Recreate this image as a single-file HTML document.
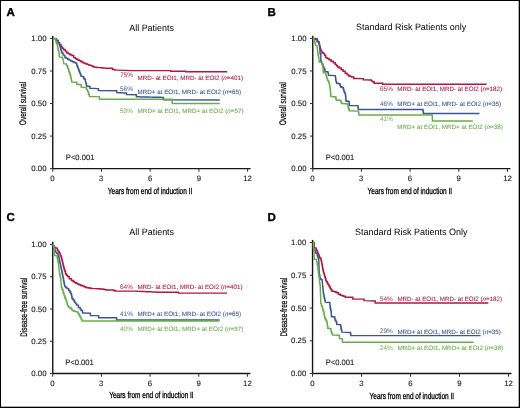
<!DOCTYPE html>
<html><head><meta charset="utf-8"><style>
html,body{margin:0;padding:0;background:#fff;}
svg{display:block;will-change:transform;}
text{font-family:"Liberation Sans",sans-serif;text-rendering:geometricPrecision;}
.L{font-size:11.5px;font-weight:bold;fill:#000;stroke:#000;stroke-width:0.35px;}
.T{font-size:9.2px;fill:#000;}
.tk{font-size:7.8px;fill:#1e1e1e;stroke:#1e1e1e;stroke-width:0.12px;}
.Y{font-size:9.5px;fill:#000;stroke:#000;stroke-width:0.22px;}
.X{font-size:8.9px;fill:#000;stroke:#000;stroke-width:0.3px;}
.P{font-size:6.6px;stroke-width:0.05px;fill-opacity:0.9;}
.G{font-size:6.3px;stroke-width:0.08px;}
.ax line{stroke:#161616;stroke-width:1.4;}
.ax line.t{stroke:#333;stroke-width:1.05;}
polyline{fill:none;stroke-width:1.45;stroke-linejoin:miter;}
</style></head><body>
<svg width="520" height="408" viewBox="0 0 520 408">
<rect x="0" y="0" width="520" height="408" fill="#fff"/>
<text class="L" x="6.6" y="16.3">A</text>
<text class="T" x="129.2" y="30.5" textLength="44.8" lengthAdjust="spacingAndGlyphs">All Patients</text>
<g class="ax"><line x1="52.75" y1="35.8" x2="52.75" y2="168.65" /><line x1="52.75" y1="168.65" x2="250.6" y2="168.65" /><line class="t" x1="49.95" y1="38.40" x2="52.75" y2="38.40" /><line class="t" x1="49.95" y1="70.96" x2="52.75" y2="70.96" /><line class="t" x1="49.95" y1="103.53" x2="52.75" y2="103.53" /><line class="t" x1="49.95" y1="136.09" x2="52.75" y2="136.09" /><line class="t" x1="49.95" y1="168.65" x2="52.75" y2="168.65" /><line class="t" x1="52.75" y1="168.65" x2="52.75" y2="171.85" /><line class="t" x1="101.46" y1="168.65" x2="101.46" y2="171.85" /><line class="t" x1="150.18" y1="168.65" x2="150.18" y2="171.85" /><line class="t" x1="198.89" y1="168.65" x2="198.89" y2="171.85" /><line class="t" x1="247.60" y1="168.65" x2="247.60" y2="171.85" /></g>
<g class="tk"><text x="46.50" y="41.20" text-anchor="end">1.00</text><text x="46.50" y="73.70" text-anchor="end">0.75</text><text x="46.50" y="106.20" text-anchor="end">0.50</text><text x="46.50" y="138.70" text-anchor="end">0.25</text><text x="46.50" y="171.20" text-anchor="end">0.00</text><text x="52.50" y="181.30" text-anchor="middle">0</text><text x="101.28" y="181.30" text-anchor="middle">3</text><text x="150.05" y="181.30" text-anchor="middle">6</text><text x="198.82" y="181.30" text-anchor="middle">9</text><text x="247.60" y="181.30" text-anchor="middle">12</text></g>
<text class="Y" transform="translate(26.3,103.4) rotate(-90)" x="0" y="0" text-anchor="middle" textLength="43" lengthAdjust="spacingAndGlyphs">Overall survival</text>
<text class="X" x="107.8" y="194.0" textLength="84.5" lengthAdjust="spacingAndGlyphs">Years from end of induction II</text>
<polyline points="52.90,38.40 55.40,38.60 56.30,38.60 56.30,40.40 57.20,40.40 58.05,40.40 58.05,42.70 58.90,42.70 59.65,42.70 59.65,44.60 60.40,44.60 61.05,44.60 61.05,46.90 61.70,46.90 62.30,46.90 62.30,48.30 62.90,48.30 63.70,48.30 63.70,49.70 64.50,49.70 65.20,49.70 65.20,51.10 65.90,51.10 66.80,51.10 66.80,52.90 67.70,52.90 68.35,52.90 68.35,53.70 69.00,53.70 69.65,53.70 69.65,54.50 70.30,54.50 70.92,54.50 70.92,55.05 71.55,55.05 72.17,55.05 72.17,55.60 72.80,55.60 73.75,55.60 73.75,57.60 74.70,57.60 75.33,57.60 75.33,58.45 75.95,58.45 76.58,58.45 76.58,59.30 77.20,59.30 77.85,59.30 77.85,59.95 78.50,59.95 79.15,59.95 79.15,60.60 79.80,60.60 80.60,60.60 80.60,61.55 81.40,61.55 82.20,61.55 82.20,62.50 83.00,62.50 83.80,62.50 83.80,63.10 84.60,63.10 85.40,63.10 85.40,63.70 86.20,63.70 87.00,63.70 87.00,64.35 87.80,64.35 88.60,64.35 88.60,65.00 89.40,65.00 90.05,65.00 90.05,65.35 90.70,65.35 91.35,65.35 91.35,65.70 92.00,65.70 92.60,65.70 92.60,66.40 93.20,66.40 93.80,66.40 93.80,67.10 94.40,67.10 95.12,67.10 95.12,67.30 95.85,67.30 96.58,67.30 96.58,67.50 97.30,67.50 100.30,67.60 101.03,67.60 101.03,67.80 101.75,67.80 102.47,67.80 102.47,68.00 103.20,68.00 106.00,68.20 111.40,68.30 112.50,68.30 112.50,69.40 113.60,69.40 114.70,69.40 114.70,70.10 115.80,70.10 124.60,70.40 134.00,70.60 170.40,70.60 170.75,70.60 170.75,71.20 171.10,71.20 185.10,71.20 185.70,71.20 185.70,71.80 186.30,71.80 227.20,71.80" stroke="#b3163f" />
<polyline points="52.90,38.40 55.40,38.70 56.40,38.70 56.40,40.40 57.40,40.40 58.10,40.40 58.10,42.60 58.80,42.60 59.05,42.60 59.05,43.95 59.30,43.95 59.55,43.95 59.55,45.30 59.80,45.30 59.97,45.30 59.97,46.50 60.15,46.50 60.33,46.50 60.33,47.70 60.50,47.70 60.70,47.70 60.70,49.15 60.90,49.15 61.10,49.15 61.10,50.60 61.30,50.60 61.55,50.60 61.55,51.90 61.80,51.90 62.05,51.90 62.05,53.20 62.30,53.20 63.10,53.20 63.10,55.10 63.90,55.10 64.85,55.10 64.85,57.40 65.80,57.40 66.45,57.40 66.45,58.35 67.10,58.35 67.75,58.35 67.75,59.30 68.40,59.30 69.20,59.30 69.20,60.10 70.00,60.10 70.80,60.10 70.80,60.90 71.60,60.90 72.38,60.90 72.38,61.70 73.15,61.70 73.92,61.70 73.92,62.50 74.70,62.50 75.60,62.50 75.60,63.10 76.50,63.10 76.67,63.10 76.67,64.40 76.85,64.40 77.03,64.40 77.03,65.70 77.20,65.70 77.47,65.70 77.47,67.05 77.75,67.05 78.03,67.05 78.03,68.40 78.30,68.40 78.53,68.40 78.53,69.65 78.75,69.65 78.97,69.65 78.97,70.90 79.20,70.90 79.47,70.90 79.47,72.20 79.75,72.20 80.03,72.20 80.03,73.50 80.30,73.50 80.50,73.50 80.50,74.80 80.70,74.80 80.90,74.80 80.90,76.10 81.10,76.10 82.15,76.10 82.15,76.60 83.20,76.60 83.65,76.60 83.65,78.50 84.10,78.50 84.65,78.50 84.65,79.50 85.20,79.50 85.60,82.10 85.95,82.10 85.95,83.60 86.30,83.60 86.40,83.60 86.40,84.85 86.50,84.85 86.60,84.85 86.60,86.10 86.70,86.10 87.42,86.10 87.42,86.30 88.15,86.30 88.88,86.30 88.88,86.50 89.60,86.50 89.95,86.50 89.95,88.30 90.30,88.30 98.10,88.60 98.45,88.60 98.45,90.50 98.80,90.50 116.50,90.80 116.85,90.80 116.85,92.60 117.20,92.60 117.94,92.60 117.94,92.67 118.68,92.67 119.42,92.67 119.42,92.73 120.17,92.73 120.91,92.73 120.91,92.80 121.65,92.80 122.39,92.80 122.39,92.87 123.13,92.87 123.88,92.87 123.88,92.93 124.62,92.93 125.36,92.93 125.36,93.00 126.10,93.00 126.45,93.00 126.45,94.50 126.80,94.50 136.00,94.80 136.40,94.80 136.40,96.80 136.80,96.80 137.62,96.80 137.62,96.84 138.44,96.84 139.27,96.84 139.27,96.88 140.09,96.88 140.91,96.88 140.91,96.91 141.73,96.91 142.55,96.91 142.55,96.95 143.38,96.95 144.20,96.95 144.20,96.99 145.02,96.99 145.84,96.99 145.84,97.03 146.66,97.03 147.48,97.03 147.48,97.06 148.31,97.06 149.13,97.06 149.13,97.10 149.95,97.10 150.77,97.10 150.77,97.14 151.59,97.14 152.42,97.14 152.42,97.17 153.24,97.17 154.06,97.17 154.06,97.21 154.88,97.21 155.70,97.21 155.70,97.25 156.53,97.25 157.35,97.25 157.35,97.29 158.17,97.29 158.99,97.29 158.99,97.33 159.81,97.33 160.63,97.33 160.63,97.36 161.46,97.36 162.28,97.36 162.28,97.40 163.10,97.40 163.35,97.40 163.35,99.80 163.60,99.80 219.80,99.90" stroke="#3d5591" />
<polyline points="52.90,38.40 55.00,38.40 55.30,38.40 55.30,39.80 55.60,39.80 55.85,39.80 55.85,41.90 56.10,41.90 56.55,41.90 56.55,43.60 57.00,43.60 57.30,43.60 57.30,45.70 57.60,45.70 57.90,48.20 58.08,48.20 58.08,49.45 58.25,49.45 58.42,49.45 58.42,50.70 58.60,50.70 58.85,50.70 58.85,52.60 59.10,52.60 59.30,54.50 59.30,56.90 62.30,57.30 62.65,57.30 62.65,59.10 63.00,59.10 63.40,60.60 63.70,63.60 66.30,63.90 66.65,63.90 66.65,65.80 67.00,65.80 67.55,65.80 67.55,68.00 68.10,68.00 68.30,68.00 68.30,69.45 68.50,69.45 68.70,69.45 68.70,70.90 68.90,70.90 69.18,70.90 69.18,72.20 69.45,72.20 69.72,72.20 69.72,73.50 70.00,73.50 70.17,73.50 70.17,75.15 70.35,75.15 70.53,75.15 70.53,76.80 70.70,76.80 70.88,76.80 70.88,78.25 71.05,78.25 71.23,78.25 71.23,79.70 71.40,79.70 71.80,82.00 76.60,82.30 76.80,82.30 76.80,84.30 77.00,84.30 77.68,84.30 77.68,84.43 78.37,84.43 79.05,84.43 79.05,84.57 79.73,84.57 80.42,84.57 80.42,84.70 81.10,84.70 81.20,84.70 81.20,85.95 81.30,85.95 81.40,85.95 81.40,87.20 81.50,87.20 85.90,87.40 86.45,87.40 86.45,89.40 87.00,89.40 87.55,89.40 87.55,91.60 88.10,91.60 88.50,91.60 88.50,93.90 88.90,93.90 89.08,93.90 89.08,95.15 89.25,95.15 89.42,95.15 89.42,96.40 89.60,96.40 99.20,96.60 99.50,99.20 171.90,99.20 171.98,99.20 171.98,100.60 172.07,100.60 172.15,100.60 172.15,102.00 172.23,102.00 172.32,102.00 172.32,103.40 172.40,103.40 219.80,103.40" stroke="#68ad4a" />
<text class="P" x="120.2" y="76.6" fill="#b3163f" stroke="#b3163f" textLength="12.9" lengthAdjust="spacingAndGlyphs">75%</text>
<text class="G" x="137.6" y="79.8" fill="#b3163f" stroke="#b3163f" textLength="105.4" lengthAdjust="spacingAndGlyphs">MRD- at EOI1, MRD- at EOI2 (<tspan font-style="italic">n</tspan>=401)</text>
<text class="P" x="120.0" y="90.6" fill="#3d5591" stroke="#3d5591" textLength="12.9" lengthAdjust="spacingAndGlyphs">56%</text>
<text class="G" x="137.6" y="93.5" fill="#3d5591" stroke="#3d5591" textLength="103.4" lengthAdjust="spacingAndGlyphs">MRD+ at EOI1, MRD- at EOI2 (<tspan font-style="italic">n</tspan>=65)</text>
<text class="P" x="120.0" y="112.8" fill="#68ad4a" stroke="#68ad4a" textLength="12.9" lengthAdjust="spacingAndGlyphs">53%</text>
<text class="G" x="137.6" y="112.8" fill="#68ad4a" stroke="#68ad4a" textLength="106.0" lengthAdjust="spacingAndGlyphs">MRD+ at EOI1, MRD+ at EOI2 (<tspan font-style="italic">n</tspan>=57)</text>
<text class="tk" x="65.8" y="159.9" textLength="28.6" lengthAdjust="spacingAndGlyphs">P&lt;0.001</text>
<text class="L" x="267.4" y="16.3">B</text>
<text class="T" x="356.0" y="30.4" textLength="110.3" lengthAdjust="spacingAndGlyphs">Standard Risk Patients only</text>
<g class="ax"><line x1="312.75" y1="35.8" x2="312.75" y2="168.65" /><line x1="312.75" y1="168.65" x2="510.5" y2="168.65" /><line class="t" x1="309.95" y1="38.40" x2="312.75" y2="38.40" /><line class="t" x1="309.95" y1="70.96" x2="312.75" y2="70.96" /><line class="t" x1="309.95" y1="103.53" x2="312.75" y2="103.53" /><line class="t" x1="309.95" y1="136.09" x2="312.75" y2="136.09" /><line class="t" x1="309.95" y1="168.65" x2="312.75" y2="168.65" /><line class="t" x1="312.75" y1="168.65" x2="312.75" y2="171.85" /><line class="t" x1="361.44" y1="168.65" x2="361.44" y2="171.85" /><line class="t" x1="410.12" y1="168.65" x2="410.12" y2="171.85" /><line class="t" x1="458.81" y1="168.65" x2="458.81" y2="171.85" /><line class="t" x1="507.50" y1="168.65" x2="507.50" y2="171.85" /></g>
<g class="tk"><text x="306.50" y="41.20" text-anchor="end">1.00</text><text x="306.50" y="73.70" text-anchor="end">0.75</text><text x="306.50" y="106.20" text-anchor="end">0.50</text><text x="306.50" y="138.70" text-anchor="end">0.25</text><text x="306.50" y="171.20" text-anchor="end">0.00</text><text x="312.50" y="181.30" text-anchor="middle">0</text><text x="361.25" y="181.30" text-anchor="middle">3</text><text x="410.00" y="181.30" text-anchor="middle">6</text><text x="458.75" y="181.30" text-anchor="middle">9</text><text x="507.50" y="181.30" text-anchor="middle">12</text></g>
<text class="Y" transform="translate(286.0,103.6) rotate(-90)" x="0" y="0" text-anchor="middle" textLength="43" lengthAdjust="spacingAndGlyphs">Overall survival</text>
<text class="X" x="367.6" y="194.2" textLength="84.5" lengthAdjust="spacingAndGlyphs">Years from end of induction II</text>
<polyline points="312.90,38.40 313.65,38.40 313.65,39.10 314.40,39.10 316.60,39.50 317.00,39.50 317.00,41.40 317.40,41.40 318.10,41.40 318.10,42.10 318.80,42.10 319.00,42.10 319.00,43.85 319.20,43.85 319.40,43.85 319.40,45.60 319.60,45.60 319.82,45.60 319.82,47.10 320.03,47.10 320.25,47.10 320.25,48.60 320.47,48.60 320.68,48.60 320.68,50.10 320.90,50.10 321.30,50.10 321.30,51.45 321.70,51.45 322.10,51.45 322.10,52.80 322.50,52.80 323.30,52.80 323.30,53.60 324.10,53.60 324.65,53.60 324.65,55.50 325.20,55.50 325.70,55.50 325.70,57.60 326.20,57.60 327.05,57.60 327.05,58.40 327.90,58.40 328.95,58.40 328.95,59.80 330.00,59.80 331.10,59.80 331.10,61.20 332.20,61.20 333.25,61.20 333.25,62.70 334.30,62.70 335.20,62.70 335.20,64.40 336.10,64.40 336.60,64.40 336.60,65.65 337.10,65.65 337.60,65.65 337.60,66.90 338.10,66.90 339.20,66.90 339.20,68.00 340.30,68.00 341.20,68.00 341.20,69.80 342.10,69.80 343.05,69.80 343.05,71.30 344.00,71.30 345.15,71.30 345.15,73.30 346.30,73.30 347.10,73.30 347.10,74.65 347.90,74.65 348.70,74.65 348.70,76.00 349.50,76.00 350.25,76.00 350.25,76.45 351.00,76.45 351.75,76.45 351.75,76.90 352.50,76.90 353.70,76.90 353.70,78.40 354.90,78.40 362.90,78.60 363.35,78.60 363.35,79.80 363.80,79.80 370.70,80.00 371.32,80.00 371.32,80.85 371.95,80.85 372.57,80.85 372.57,81.70 373.20,81.70 374.15,81.70 374.15,83.20 375.10,83.20 381.50,83.20 382.70,83.20 382.70,84.20 383.90,84.20 486.60,84.20" stroke="#b3163f" />
<polyline points="312.90,38.40 317.40,38.60 317.70,41.40 318.45,41.40 318.45,42.10 319.20,42.10 319.30,42.10 319.30,43.95 319.40,43.95 319.50,43.95 319.50,45.80 319.60,45.80 319.90,49.40 320.10,53.50 320.45,53.50 320.45,54.00 320.80,54.00 320.80,60.60 321.15,60.60 321.15,61.40 321.50,61.40 321.90,63.90 323.00,64.30 323.40,66.90 323.95,66.90 323.95,68.70 324.50,68.70 324.68,68.70 324.68,70.15 324.85,70.15 325.02,70.15 325.02,71.60 325.20,71.60 325.93,71.60 325.93,71.80 326.65,71.80 327.38,71.80 327.38,72.00 328.10,72.00 328.50,75.30 335.30,75.60 335.38,75.60 335.38,77.03 335.47,77.03 335.55,77.03 335.55,78.47 335.63,78.47 335.72,78.47 335.72,79.90 335.80,79.90 336.05,79.90 336.05,81.60 336.30,81.60 336.55,81.60 336.55,83.30 336.80,83.30 337.52,83.30 337.52,83.55 338.25,83.55 338.98,83.55 338.98,83.80 339.70,83.80 339.95,83.80 339.95,85.25 340.20,85.25 340.45,85.25 340.45,86.70 340.70,86.70 341.32,86.70 341.32,87.20 341.95,87.20 342.57,87.20 342.57,87.70 343.20,87.70 343.43,87.70 343.43,89.45 343.65,89.45 343.88,89.45 343.88,91.20 344.10,91.20 344.48,91.20 344.48,92.90 344.85,92.90 345.23,92.90 345.23,94.60 345.60,94.60 345.66,94.60 345.66,96.20 345.73,96.20 345.79,96.20 345.79,97.80 345.85,97.80 345.91,97.80 345.91,99.40 345.98,99.40 346.04,99.40 346.04,101.00 346.10,101.00 346.83,101.00 346.83,101.25 347.55,101.25 348.27,101.25 348.27,101.50 349.00,101.50 349.12,101.50 349.12,103.45 349.25,103.45 349.38,103.45 349.38,105.40 349.50,105.40 357.90,105.60 358.00,105.60 358.00,107.50 358.10,107.50 358.20,107.50 358.20,109.40 358.30,109.40 422.90,109.50 423.05,109.50 423.05,111.45 423.20,111.45 423.35,111.45 423.35,113.40 423.50,113.40 479.50,113.40" stroke="#3d5591" />
<polyline points="312.90,38.40 313.30,38.80 313.85,38.80 313.85,40.60 314.40,40.60 314.75,40.60 314.75,42.80 315.10,42.80 315.50,45.40 317.00,45.80 317.40,48.70 317.70,51.60 317.80,51.60 317.80,53.10 317.90,53.10 318.00,53.10 318.00,54.60 318.10,54.60 318.28,54.60 318.28,56.05 318.45,56.05 318.62,56.05 318.62,57.50 318.80,57.50 319.20,62.00 321.80,62.30 322.00,62.30 322.00,63.65 322.20,63.65 322.40,63.65 322.40,65.00 322.60,65.00 323.00,68.00 323.40,72.80 325.60,73.10 325.95,73.10 325.95,75.30 326.30,75.30 326.48,75.30 326.48,76.80 326.65,76.80 326.82,76.80 326.82,78.30 327.00,78.30 327.55,78.30 327.55,80.50 328.10,80.50 328.65,80.50 328.65,82.70 329.20,82.70 329.40,83.80 329.52,83.80 329.52,85.28 329.65,85.28 329.77,85.28 329.77,86.75 329.90,86.75 330.02,86.75 330.02,88.22 330.15,88.22 330.27,88.22 330.27,89.70 330.40,89.70 330.46,89.70 330.46,91.38 330.52,91.38 330.59,91.38 330.59,93.05 330.65,93.05 330.71,93.05 330.71,94.73 330.77,94.73 330.84,94.73 330.84,96.40 330.90,96.40 331.72,96.40 331.72,96.60 332.53,96.60 333.35,96.60 333.35,96.80 334.17,96.80 334.98,96.80 334.98,97.00 335.80,97.00 335.93,97.00 335.93,98.50 336.05,98.50 336.18,98.50 336.18,100.00 336.30,100.00 337.03,100.00 337.03,100.17 337.77,100.17 338.50,100.17 338.50,100.33 339.23,100.33 339.97,100.33 339.97,100.50 340.70,100.50 340.95,100.50 340.95,101.95 341.20,101.95 341.45,101.95 341.45,103.40 341.70,103.40 342.44,103.40 342.44,103.53 343.18,103.53 343.91,103.53 343.91,103.65 344.65,103.65 345.39,103.65 345.39,103.78 346.12,103.78 346.86,103.78 346.86,103.90 347.60,103.90 347.83,103.90 347.83,105.85 348.05,105.85 348.27,105.85 348.27,107.80 348.50,107.80 348.75,107.80 348.75,109.30 349.00,109.30 349.25,109.30 349.25,110.80 349.50,110.80 358.40,111.10 358.57,111.10 358.57,113.00 358.75,113.00 358.93,113.00 358.93,114.90 359.10,114.90 432.20,114.90 432.50,120.90 472.80,120.90" stroke="#68ad4a" />
<text class="P" x="380.0" y="90.9" fill="#b3163f" stroke="#b3163f" textLength="12.9" lengthAdjust="spacingAndGlyphs">65%</text>
<text class="G" x="397.3" y="90.8" fill="#b3163f" stroke="#b3163f" textLength="104.8" lengthAdjust="spacingAndGlyphs">MRD- at EOI1, MRD- at EOI2 (<tspan font-style="italic">n</tspan>=182)</text>
<text class="P" x="380.0" y="106.4" fill="#3d5591" stroke="#3d5591" textLength="12.9" lengthAdjust="spacingAndGlyphs">46%</text>
<text class="G" x="397.3" y="106.3" fill="#3d5591" stroke="#3d5591" textLength="103.7" lengthAdjust="spacingAndGlyphs">MRD+ at EOI1, MRD- at EOI2 (<tspan font-style="italic">n</tspan>=35)</text>
<text class="P" x="380.0" y="121.1" fill="#68ad4a" stroke="#68ad4a" textLength="12.9" lengthAdjust="spacingAndGlyphs">41%</text>
<text class="G" x="397.3" y="129.3" fill="#68ad4a" stroke="#68ad4a" textLength="105.5" lengthAdjust="spacingAndGlyphs">MRD+ at EOI1, MRD+ at EOI2 (<tspan font-style="italic">n</tspan>=38)</text>
<text class="tk" x="325.7" y="159.9" textLength="28.6" lengthAdjust="spacingAndGlyphs">P&lt;0.001</text>
<text class="L" x="6.6" y="220.9">C</text>
<text class="T" x="129.3" y="235.2" textLength="44.8" lengthAdjust="spacingAndGlyphs">All Patients</text>
<g class="ax"><line x1="52.75" y1="241.8" x2="52.75" y2="373.55" /><line x1="52.75" y1="373.55" x2="250.4" y2="373.55" /><line class="t" x1="49.95" y1="244.40" x2="52.75" y2="244.40" /><line class="t" x1="49.95" y1="276.69" x2="52.75" y2="276.69" /><line class="t" x1="49.95" y1="308.98" x2="52.75" y2="308.98" /><line class="t" x1="49.95" y1="341.26" x2="52.75" y2="341.26" /><line class="t" x1="49.95" y1="373.55" x2="52.75" y2="373.55" /><line class="t" x1="52.75" y1="373.55" x2="52.75" y2="376.75" /><line class="t" x1="101.41" y1="373.55" x2="101.41" y2="376.75" /><line class="t" x1="150.07" y1="373.55" x2="150.07" y2="376.75" /><line class="t" x1="198.74" y1="373.55" x2="198.74" y2="376.75" /><line class="t" x1="247.40" y1="373.55" x2="247.40" y2="376.75" /></g>
<g class="tk"><text x="46.50" y="247.20" text-anchor="end">1.00</text><text x="46.50" y="279.43" text-anchor="end">0.75</text><text x="46.50" y="311.65" text-anchor="end">0.50</text><text x="46.50" y="343.88" text-anchor="end">0.25</text><text x="46.50" y="376.10" text-anchor="end">0.00</text><text x="52.50" y="386.20" text-anchor="middle">0</text><text x="101.22" y="386.20" text-anchor="middle">3</text><text x="149.95" y="386.20" text-anchor="middle">6</text><text x="198.68" y="386.20" text-anchor="middle">9</text><text x="247.40" y="386.20" text-anchor="middle">12</text></g>
<text class="Y" transform="translate(26.7,307.2) rotate(-90)" x="0" y="0" text-anchor="middle" textLength="59" lengthAdjust="spacingAndGlyphs">Disease-free survival</text>
<text class="X" x="109.2" y="398.4" textLength="84.5" lengthAdjust="spacingAndGlyphs">Years from end of induction II</text>
<polyline points="52.90,244.40 53.30,244.40 53.30,245.90 53.70,245.90 54.40,245.90 54.40,247.40 55.10,247.40 55.85,247.40 55.85,248.10 56.60,248.10 57.35,248.10 57.35,250.30 58.10,250.30 58.48,250.30 58.48,251.60 58.85,251.60 59.23,251.60 59.23,252.90 59.60,252.90 60.15,252.90 60.15,255.10 60.70,255.10 60.98,255.10 60.98,256.75 61.25,256.75 61.52,256.75 61.52,258.40 61.80,258.40 62.00,258.40 62.00,260.20 62.20,260.20 62.40,260.20 62.40,262.00 62.60,262.00 62.75,262.00 62.75,263.50 62.90,263.50 63.05,263.50 63.05,265.00 63.20,265.00 63.45,265.00 63.45,266.75 63.70,266.75 63.95,266.75 63.95,268.50 64.20,268.50 64.42,268.50 64.42,270.00 64.65,270.00 64.88,270.00 64.88,271.50 65.10,271.50 65.55,271.50 65.55,273.90 66.00,273.90 66.53,273.90 66.53,275.20 67.05,275.20 67.57,275.20 67.57,276.50 68.10,276.50 69.20,276.50 69.20,278.70 70.30,278.70 71.40,278.70 71.40,280.50 72.50,280.50 73.15,280.50 73.15,281.45 73.80,281.45 74.45,281.45 74.45,282.40 75.10,282.40 75.85,282.40 75.85,283.15 76.60,283.15 77.35,283.15 77.35,283.90 78.10,283.90 78.97,283.90 78.97,284.65 79.85,284.65 80.72,284.65 80.72,285.40 81.60,285.40 82.42,285.40 82.42,286.07 83.23,286.07 84.05,286.07 84.05,286.73 84.87,286.73 85.68,286.73 85.68,287.40 86.50,287.40 87.24,287.40 87.24,287.70 87.97,287.70 88.71,287.70 88.71,288.00 89.45,288.00 90.19,288.00 90.19,288.30 90.93,288.30 91.66,288.30 91.66,288.60 92.40,288.60 96.00,288.60 96.77,288.60 96.77,288.72 97.54,288.72 98.31,288.72 98.31,288.84 99.08,288.84 99.85,288.84 99.85,288.96 100.62,288.96 101.39,288.96 101.39,289.08 102.16,289.08 102.93,289.08 102.93,289.20 103.70,289.20 104.47,289.20 104.47,289.60 105.25,289.60 106.03,289.60 106.03,290.00 106.80,290.00 112.90,290.00 113.68,290.00 113.68,290.55 114.45,290.55 115.22,290.55 115.22,291.10 116.00,291.10 134.50,291.10 142.20,291.50 142.97,291.50 142.97,291.56 143.74,291.56 144.51,291.56 144.51,291.62 145.27,291.62 146.04,291.62 146.04,291.69 146.81,291.69 147.58,291.69 147.58,291.75 148.35,291.75 149.12,291.75 149.12,291.81 149.89,291.81 150.66,291.81 150.66,291.88 151.43,291.88 152.19,291.88 152.19,291.94 152.96,291.94 153.73,291.94 153.73,292.00 154.50,292.00 159.10,292.30 177.70,292.30 178.45,292.30 178.45,293.10 179.20,293.10 227.00,293.10" stroke="#b3163f" />
<polyline points="52.90,244.40 53.30,244.40 53.30,245.90 53.70,245.90 53.88,245.90 53.88,247.37 54.07,247.37 54.25,247.37 54.25,248.83 54.43,248.83 54.62,248.83 54.62,250.30 54.80,250.30 55.35,250.30 55.35,252.10 55.90,252.10 56.65,252.10 56.65,253.20 57.40,253.20 57.95,253.20 57.95,255.40 58.50,255.40 58.67,255.40 58.67,256.90 58.85,256.90 59.03,256.90 59.03,258.40 59.20,258.40 59.38,258.40 59.38,260.25 59.55,260.25 59.73,260.25 59.73,262.10 59.90,262.10 60.05,262.10 60.05,263.55 60.20,263.55 60.35,263.55 60.35,265.00 60.50,265.00 60.67,265.00 60.67,266.50 60.85,266.50 61.03,266.50 61.03,268.00 61.20,268.00 61.40,268.00 61.40,269.70 61.60,269.70 61.80,269.70 61.80,271.40 62.00,271.40 62.15,271.40 62.15,273.20 62.30,273.20 62.45,273.20 62.45,275.00 62.60,275.00 62.80,275.00 62.80,276.85 63.00,276.85 63.20,276.85 63.20,278.70 63.40,278.70 63.57,278.70 63.57,280.55 63.75,280.55 63.92,280.55 63.92,282.40 64.10,282.40 64.27,282.40 64.27,284.25 64.45,284.25 64.62,284.25 64.62,286.10 64.80,286.10 65.55,286.10 65.55,287.50 66.30,287.50 67.05,287.50 67.05,288.60 67.80,288.60 68.65,288.60 68.65,290.50 69.50,290.50 69.95,290.50 69.95,292.15 70.40,292.15 70.85,292.15 70.85,293.80 71.30,293.80 71.47,293.80 71.47,295.43 71.63,295.43 71.80,295.43 71.80,297.07 71.97,297.07 72.13,297.07 72.13,298.70 72.30,298.70 73.00,298.70 73.00,299.70 73.70,299.70 74.08,299.70 74.08,301.15 74.45,301.15 74.83,301.15 74.83,302.60 75.20,302.60 75.70,302.60 75.70,303.85 76.20,303.85 76.70,303.85 76.70,305.10 77.20,305.10 78.40,305.10 78.40,307.50 79.60,307.50 80.10,307.50 80.10,309.00 80.60,309.00 81.10,309.00 81.10,310.50 81.60,310.50 82.55,310.50 82.55,312.90 83.50,312.90 89.90,313.20 90.40,313.20 90.40,315.40 90.90,315.40 98.20,315.60 98.65,315.60 98.65,317.70 99.10,317.70 116.30,317.80 116.60,317.80 116.60,319.90 116.90,319.90 219.50,319.90" stroke="#3d5591" />
<polyline points="52.90,244.40 53.30,244.40 53.47,244.40 53.47,245.90 53.65,245.90 53.83,245.90 53.83,247.40 54.00,247.40 54.40,253.20 54.40,255.40 55.05,255.40 55.05,255.60 55.70,255.60 56.35,255.60 56.35,255.80 57.00,255.80 57.12,255.80 57.12,257.17 57.23,257.17 57.35,257.17 57.35,258.53 57.47,258.53 57.58,258.53 57.58,259.90 57.70,259.90 57.90,259.90 57.90,261.70 58.10,261.70 58.30,261.70 58.30,263.50 58.50,263.50 58.80,266.50 59.10,270.00 59.30,271.40 59.47,271.40 59.47,273.20 59.65,273.20 59.83,273.20 59.83,275.00 60.00,275.00 60.20,275.00 60.20,276.85 60.40,276.85 60.60,276.85 60.60,278.70 60.80,278.70 61.10,283.10 61.30,286.50 61.62,286.50 61.62,288.10 61.95,288.10 62.27,288.10 62.27,289.70 62.60,289.70 63.00,289.70 63.00,291.90 63.40,291.90 63.65,291.90 63.65,293.85 63.90,293.85 64.15,293.85 64.15,295.80 64.40,295.80 64.73,295.80 64.73,297.43 65.07,297.43 65.40,297.43 65.40,299.07 65.73,299.07 66.07,299.07 66.07,300.70 66.40,300.70 66.63,300.70 66.63,302.33 66.87,302.33 67.10,302.33 67.10,303.97 67.33,303.97 67.57,303.97 67.57,305.60 67.80,305.60 68.30,305.60 68.30,307.00 68.80,307.00 69.80,307.00 69.80,308.00 70.80,308.00 71.28,308.00 71.28,309.25 71.75,309.25 72.22,309.25 72.22,310.50 72.70,310.50 73.70,310.50 73.70,311.30 74.70,311.30 75.42,311.30 75.42,311.60 76.15,311.60 76.88,311.60 76.88,311.90 77.60,311.90 77.97,311.90 77.97,313.15 78.35,313.15 78.72,313.15 78.72,314.40 79.10,314.40 79.47,314.40 79.47,315.85 79.85,315.85 80.22,315.85 80.22,317.30 80.60,317.30 81.07,317.30 81.07,319.10 81.55,319.10 82.03,319.10 82.03,320.90 82.50,320.90 219.50,320.90" stroke="#68ad4a" />
<text class="P" x="120.0" y="288.7" fill="#b3163f" stroke="#b3163f" textLength="12.9" lengthAdjust="spacingAndGlyphs">64%</text>
<text class="G" x="137.4" y="288.6" fill="#b3163f" stroke="#b3163f" textLength="105.2" lengthAdjust="spacingAndGlyphs">MRD- at EOI1, MRD- at EOI2 (<tspan font-style="italic">n</tspan>=401)</text>
<text class="P" x="120.0" y="315.8" fill="#3d5591" stroke="#3d5591" textLength="12.9" lengthAdjust="spacingAndGlyphs">41%</text>
<text class="G" x="137.4" y="315.9" fill="#3d5591" stroke="#3d5591" textLength="103.7" lengthAdjust="spacingAndGlyphs">MRD+ at EOI1, MRD- at EOI2 (<tspan font-style="italic">n</tspan>=65)</text>
<text class="P" x="120.0" y="331.2" fill="#68ad4a" stroke="#68ad4a" textLength="12.9" lengthAdjust="spacingAndGlyphs">40%</text>
<text class="G" x="137.4" y="331.2" fill="#68ad4a" stroke="#68ad4a" textLength="106.0" lengthAdjust="spacingAndGlyphs">MRD+ at EOI1, MRD+ at EOI2 (<tspan font-style="italic">n</tspan>=57)</text>
<text class="tk" x="65.2" y="364.7" textLength="28.6" lengthAdjust="spacingAndGlyphs">P&lt;0.001</text>
<text class="L" x="267.4" y="220.9">D</text>
<text class="T" x="355.0" y="235.0" textLength="112.5" lengthAdjust="spacingAndGlyphs">Standard Risk Patients Only</text>
<g class="ax"><line x1="312.55" y1="239.9" x2="312.55" y2="373.55" /><line x1="312.55" y1="373.55" x2="511.5" y2="373.55" /><line class="t" x1="309.75" y1="242.50" x2="312.55" y2="242.50" /><line class="t" x1="309.75" y1="275.26" x2="312.55" y2="275.26" /><line class="t" x1="309.75" y1="308.02" x2="312.55" y2="308.02" /><line class="t" x1="309.75" y1="340.79" x2="312.55" y2="340.79" /><line class="t" x1="309.75" y1="373.55" x2="312.55" y2="373.55" /><line class="t" x1="312.55" y1="373.55" x2="312.55" y2="376.75" /><line class="t" x1="361.54" y1="373.55" x2="361.54" y2="376.75" /><line class="t" x1="410.52" y1="373.55" x2="410.52" y2="376.75" /><line class="t" x1="459.51" y1="373.55" x2="459.51" y2="376.75" /><line class="t" x1="508.50" y1="373.55" x2="508.50" y2="376.75" /></g>
<g class="tk"><text x="306.30" y="245.30" text-anchor="end">1.00</text><text x="306.30" y="278.00" text-anchor="end">0.75</text><text x="306.30" y="310.70" text-anchor="end">0.50</text><text x="306.30" y="343.40" text-anchor="end">0.25</text><text x="306.30" y="376.10" text-anchor="end">0.00</text><text x="312.30" y="386.20" text-anchor="middle">0</text><text x="361.35" y="386.20" text-anchor="middle">3</text><text x="410.40" y="386.20" text-anchor="middle">6</text><text x="459.45" y="386.20" text-anchor="middle">9</text><text x="508.50" y="386.20" text-anchor="middle">12</text></g>
<text class="Y" transform="translate(286.6,307.1) rotate(-90)" x="0" y="0" text-anchor="middle" textLength="59" lengthAdjust="spacingAndGlyphs">Disease-free survival</text>
<text class="X" x="369.6" y="398.8" textLength="84.5" lengthAdjust="spacingAndGlyphs">Years from end of induction II</text>
<polyline points="312.90,242.40 313.45,242.40 313.45,242.80 314.00,242.80 314.40,247.60 315.90,247.90 316.07,247.90 316.07,249.20 316.25,249.20 316.43,249.20 316.43,250.50 316.60,250.50 317.15,250.50 317.15,252.30 317.70,252.30 317.98,252.30 317.98,253.60 318.25,253.60 318.52,253.60 318.52,254.90 318.80,254.90 319.00,254.90 319.00,256.20 319.20,256.20 319.40,256.20 319.40,257.50 319.60,257.50 320.15,257.50 320.15,258.20 320.70,258.20 320.88,258.20 320.88,259.60 321.05,259.60 321.22,259.60 321.22,261.00 321.40,261.00 321.60,261.00 321.60,263.00 321.80,263.00 322.00,263.00 322.00,265.00 322.20,265.00 322.35,265.00 322.35,267.00 322.50,267.00 322.65,267.00 322.65,269.00 322.80,269.00 323.07,269.00 323.07,271.00 323.35,271.00 323.62,271.00 323.62,273.00 323.90,273.00 324.17,273.00 324.17,274.85 324.45,274.85 324.73,274.85 324.73,276.70 325.00,276.70 325.27,276.70 325.27,278.55 325.55,278.55 325.83,278.55 325.83,280.40 326.10,280.40 326.45,280.40 326.45,281.70 326.80,281.70 327.15,281.70 327.15,283.00 327.50,283.00 327.88,283.00 327.88,284.25 328.25,284.25 328.62,284.25 328.62,285.50 329.00,285.50 329.43,285.50 329.43,286.95 329.85,286.95 330.27,286.95 330.27,288.40 330.70,288.40 331.07,288.40 331.07,289.65 331.45,289.65 331.82,289.65 331.82,290.90 332.20,290.90 332.95,290.90 332.95,291.35 333.70,291.35 334.45,291.35 334.45,291.80 335.20,291.80 335.80,291.80 335.80,292.30 336.40,292.30 337.00,292.30 337.00,292.80 337.60,292.80 338.35,292.80 338.35,294.30 339.10,294.30 340.30,294.30 340.30,295.30 341.50,295.30 342.12,295.30 342.12,295.80 342.75,295.80 343.38,295.80 343.38,296.30 344.00,296.30 345.20,296.30 345.20,297.20 346.40,297.20 352.30,297.20 352.80,297.20 352.80,298.90 353.30,298.90 363.70,299.10 364.10,299.10 364.10,300.60 364.50,300.60 374.50,300.90 375.25,300.90 375.25,302.90 376.00,302.90 488.30,302.90" stroke="#b3163f" />
<polyline points="312.90,242.40 313.70,242.40 314.00,249.80 315.10,250.10 315.50,253.10 317.00,253.40 317.18,253.40 317.18,254.90 317.35,254.90 317.52,254.90 317.52,256.40 317.70,256.40 318.10,256.40 318.10,257.90 318.50,257.90 318.80,261.50 319.00,265.80 319.10,270.80 319.50,274.50 319.63,274.50 319.63,275.97 319.77,275.97 319.90,275.97 319.90,277.43 320.03,277.43 320.17,277.43 320.17,278.90 320.30,278.90 321.20,278.90 321.20,279.60 322.10,279.60 322.50,283.30 322.80,287.00 322.88,287.00 322.88,288.45 322.95,288.45 323.02,288.45 323.02,289.90 323.10,289.90 323.18,289.90 323.18,291.35 323.25,291.35 323.32,291.35 323.32,292.80 323.40,292.80 323.57,292.80 323.57,294.43 323.73,294.43 323.90,294.43 323.90,296.07 324.07,296.07 324.23,296.07 324.23,297.70 324.40,297.70 324.57,297.70 324.57,299.17 324.73,299.17 324.90,299.17 324.90,300.63 325.07,300.63 325.23,300.63 325.23,302.10 325.40,302.10 329.80,302.40 329.86,302.40 329.86,303.92 329.93,303.92 329.99,303.92 329.99,305.45 330.05,305.45 330.11,305.45 330.11,306.98 330.18,306.98 330.24,306.98 330.24,308.50 330.30,308.50 330.75,308.50 330.75,310.50 331.20,310.50 331.40,316.40 332.22,316.40 332.22,316.65 333.05,316.65 333.88,316.65 333.88,316.90 334.70,316.90 334.82,316.90 334.82,318.60 334.95,318.60 335.07,318.60 335.07,320.30 335.20,320.30 335.95,320.30 335.95,321.80 336.70,321.80 336.70,324.30 340.60,324.70 340.73,324.70 340.73,326.45 340.85,326.45 340.98,326.45 340.98,328.20 341.10,328.20 341.35,328.20 341.35,330.15 341.60,330.15 341.85,330.15 341.85,332.10 342.10,332.10 350.40,332.40 350.52,332.40 350.52,334.00 350.65,334.00 350.77,334.00 350.77,335.60 350.90,335.60 480.60,335.60" stroke="#3d5591" />
<polyline points="312.90,242.40 313.30,242.40 313.50,247.60 313.58,247.60 313.58,249.30 313.67,249.30 313.75,249.30 313.75,251.00 313.83,251.00 313.92,251.00 313.92,252.70 314.00,252.70 314.30,259.30 316.60,259.70 317.00,262.30 317.12,262.30 317.12,263.67 317.23,263.67 317.35,263.67 317.35,265.03 317.47,265.03 317.58,265.03 317.58,266.40 317.70,266.40 317.79,266.40 317.79,267.88 317.88,267.88 317.96,267.88 317.96,269.35 318.05,269.35 318.14,269.35 318.14,270.82 318.22,270.82 318.31,270.82 318.31,272.30 318.40,272.30 318.52,272.30 318.52,273.77 318.63,273.77 318.75,273.77 318.75,275.23 318.87,275.23 318.98,275.23 318.98,276.70 319.10,276.70 319.50,281.10 319.62,281.10 319.62,282.57 319.73,282.57 319.85,282.57 319.85,284.03 319.97,284.03 320.08,284.03 320.08,285.50 320.20,285.50 320.50,293.80 320.90,303.60 321.40,303.60 321.40,305.60 321.90,305.60 322.15,305.60 322.15,307.55 322.40,307.55 322.65,307.55 322.65,309.50 322.90,309.50 323.15,309.50 323.15,310.95 323.40,310.95 323.65,310.95 323.65,312.40 323.90,312.40 324.02,312.40 324.02,313.80 324.15,313.80 324.27,313.80 324.27,315.20 324.40,315.20 324.52,315.20 324.52,316.60 324.65,316.60 324.77,316.60 324.77,318.00 324.90,318.00 325.40,318.00 325.40,319.65 325.90,319.65 326.40,319.65 326.40,321.30 326.90,321.30 327.02,321.30 327.02,323.25 327.15,323.25 327.27,323.25 327.27,325.20 327.40,325.20 327.52,325.20 327.52,326.70 327.65,326.70 327.77,326.70 327.77,328.20 327.90,328.20 328.62,328.20 328.62,328.45 329.35,328.45 330.07,328.45 330.07,328.70 330.80,328.70 330.93,328.70 330.93,330.15 331.05,330.15 331.18,330.15 331.18,331.60 331.30,331.60 331.68,331.60 331.68,333.30 332.05,333.30 332.43,333.30 332.43,335.00 332.80,335.00 339.20,335.30 339.30,335.30 339.30,336.90 339.40,336.90 339.50,336.90 339.50,338.50 339.60,338.50 342.10,338.70 342.23,338.70 342.23,340.45 342.35,340.45 342.48,340.45 342.48,342.20 342.60,342.20 473.70,342.20" stroke="#68ad4a" />
<text class="P" x="379.8" y="300.6" fill="#b3163f" stroke="#b3163f" textLength="12.9" lengthAdjust="spacingAndGlyphs">54%</text>
<text class="G" x="397.4" y="301.0" fill="#b3163f" stroke="#b3163f" textLength="104.7" lengthAdjust="spacingAndGlyphs">MRD- at EOI1, MRD- at EOI2 (<tspan font-style="italic">n</tspan>=182)</text>
<text class="P" x="379.8" y="333.2" fill="#3d5591" stroke="#3d5591" textLength="12.9" lengthAdjust="spacingAndGlyphs">29%</text>
<text class="G" x="397.4" y="333.5" fill="#3d5591" stroke="#3d5591" textLength="103.4" lengthAdjust="spacingAndGlyphs">MRD+ at EOI1, MRD- at EOI2 (<tspan font-style="italic">n</tspan>=35)</text>
<text class="P" x="379.8" y="349.6" fill="#68ad4a" stroke="#68ad4a" textLength="12.9" lengthAdjust="spacingAndGlyphs">24%</text>
<text class="G" x="397.4" y="349.9" fill="#68ad4a" stroke="#68ad4a" textLength="105.6" lengthAdjust="spacingAndGlyphs">MRD+ at EOI1, MRD+ at EOI2 (<tspan font-style="italic">n</tspan>=38)</text>
<text class="tk" x="325.7" y="364.7" textLength="28.6" lengthAdjust="spacingAndGlyphs">P&lt;0.001</text>
<rect x="0.5" y="0.5" width="519" height="407" fill="none" stroke="#000" stroke-width="1"/>
<path d="M518.5 1V407M1 406.5H519" stroke="#000" stroke-opacity="0.3" stroke-width="1" fill="none"/>
</svg>
</body></html>
